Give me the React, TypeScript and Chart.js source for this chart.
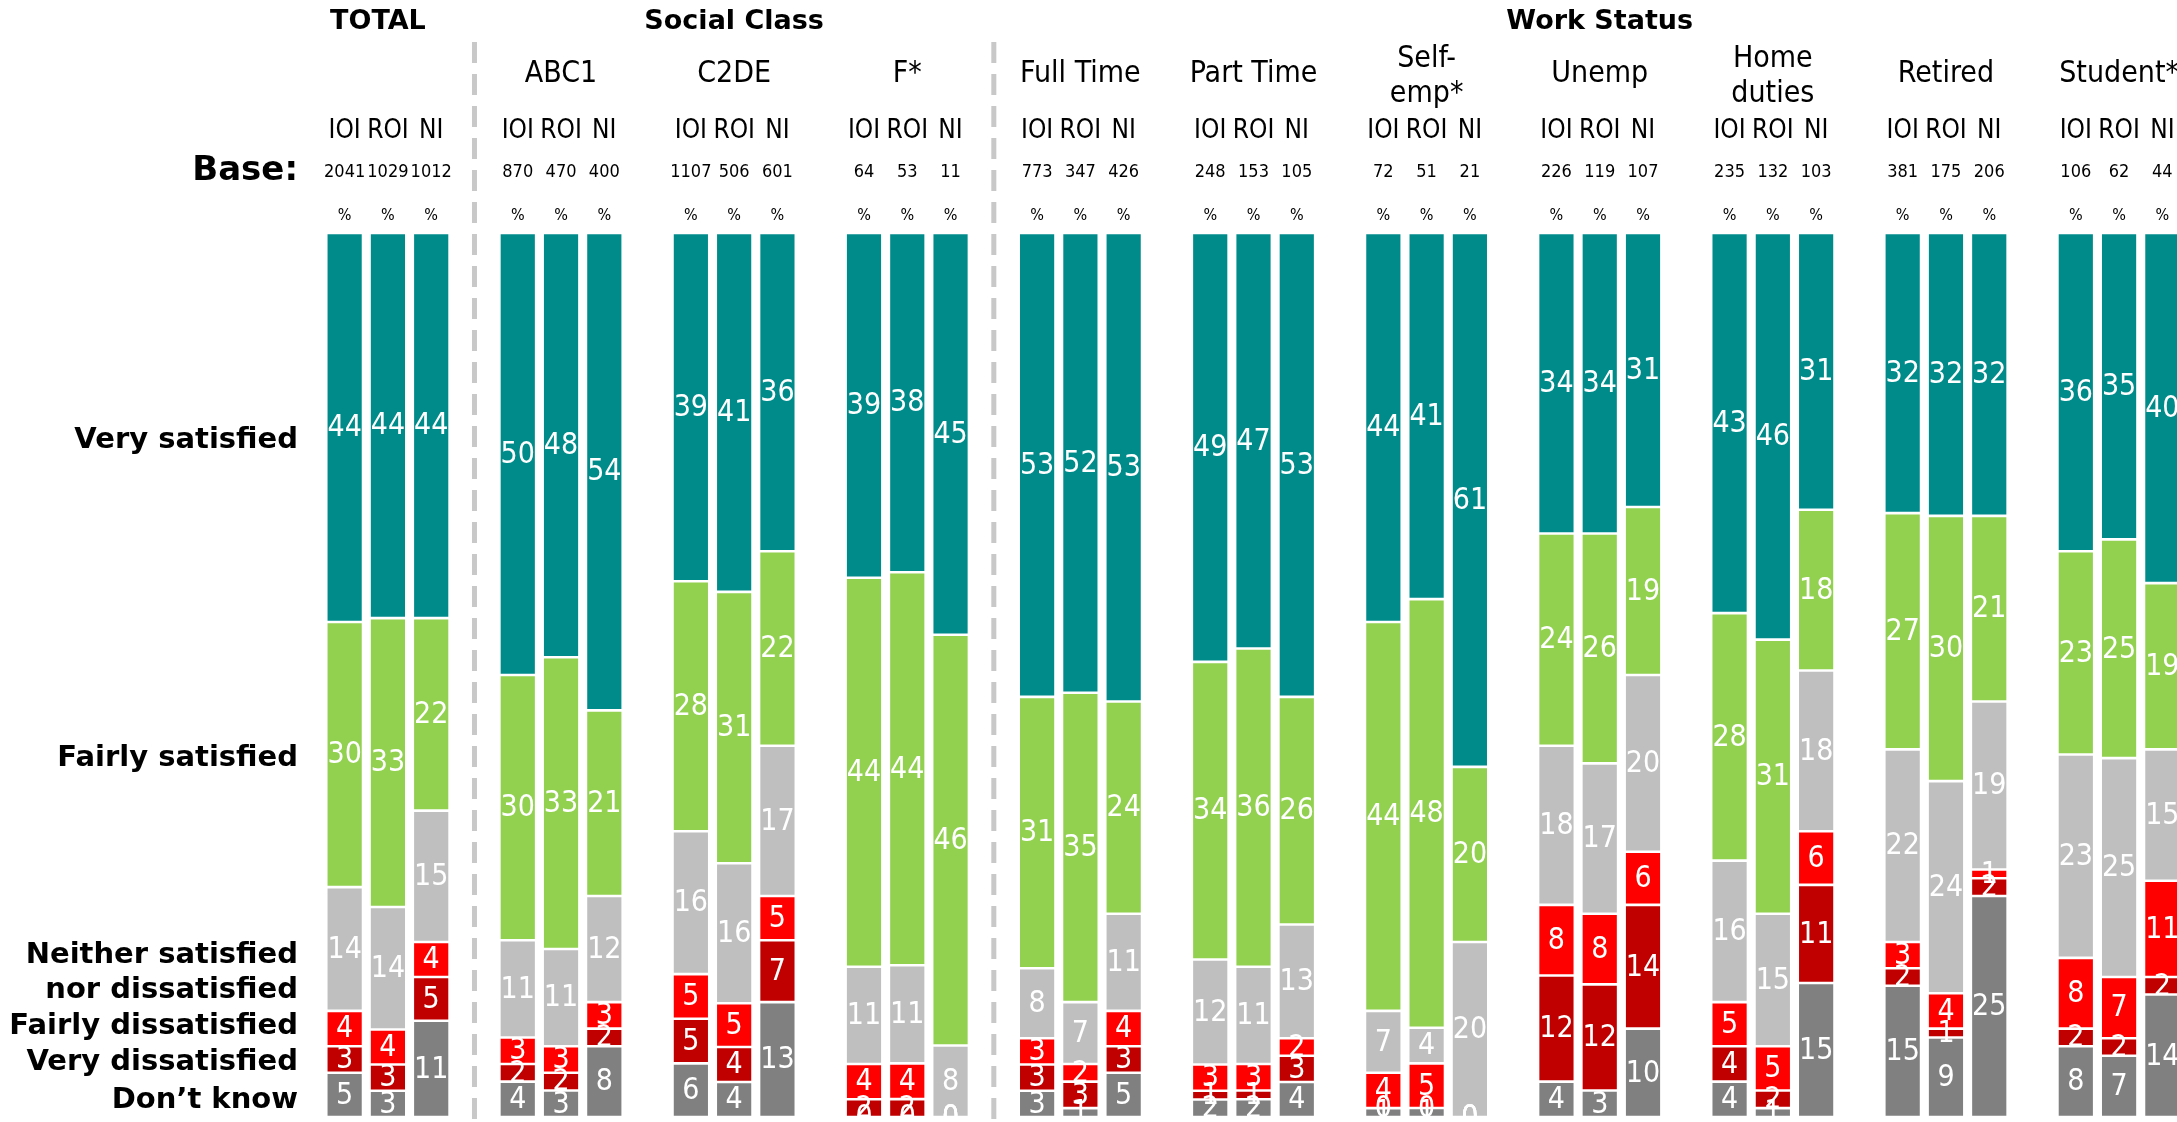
import React, { useEffect, useRef } from "react";
import { Chart, registerables } from "chart.js";
Chart.register(...registerables);

// ---------- DATA ----------
const sectionTitles = ["TOTAL", "Social Class", "Work Status"];
const groupNames = ["", "ABC1", "C2DE", "F*", "Full Time", "Part Time", "Self-\nemp*", "Unemp", "Home\nduties", "Retired", "Student*"];
const regionNames = ["IOI", "ROI", "NI"];
const baseCounts = [
  2041, 1029, 1012, 870, 470, 400, 1107, 506, 601, 64, 53, 11,
  773, 347, 426, 248, 153, 105, 72, 51, 21, 226, 119, 107,
  235, 132, 103, 381, 175, 206, 106, 62, 44,
];
const responseLabels = ["Don’t know", "Very dissatisfied", "Fairly dissatisfied", "Neither satisfied nor dissatisfied", "Fairly satisfied", "Very satisfied"];

const verySatisfied = [44, 44, 44, 50, 48, 54, 39, 41, 36, 39, 38, 45, 53, 52, 53, 49, 47, 53, 44, 41, 61, 34, 34, 31, 43, 46, 31, 32, 32, 32, 36, 35, 40];
const fairlySatisfied = [30, 33, 22, 30, 33, 21, 28, 31, 22, 44, 44, 46, 31, 35, 24, 34, 36, 26, 44, 48, 20, 24, 26, 19, 28, 31, 18, 27, 30, 21, 23, 25, 19];
const neitherNor = [14, 14, 15, 11, 11, 12, 16, 16, 17, 11, 11, 8, 8, 7, 11, 12, 11, 13, 7, 4, 20, 18, 17, 20, 16, 15, 18, 22, 24, 19, 23, 25, 15];
const fairlyDissatisfied = [4, 4, 4, 3, 3, 3, 5, 5, 5, 4, 4, 0, 3, 2, 4, 3, 3, 2, 4, 5, 0, 8, 8, 6, 5, 5, 6, 3, 4, 1, 8, 7, 11];
const veryDissatisfied = [3, 3, 5, 2, 2, 2, 5, 4, 7, 2, 2, 0, 3, 3, 3, 1, 1, 3, 0, 0, 0, 12, 12, 14, 4, 2, 11, 2, 1, 2, 2, 2, 2];
const dontKnow = [5, 3, 11, 4, 3, 8, 6, 4, 13, 0, 0, 0, 3, 1, 5, 2, 2, 4, 1, 1, 0, 4, 3, 10, 4, 1, 15, 15, 9, 25, 8, 7, 14];

const seriesColors = ["#808080", "#C00000", "#FF0000", "#BFBFBF", "#92D050", "#008B8B"];

// ---------- LAYOUT HELPERS ----------
const SLOTS = 43;
const slotOf = (i: number) => Math.floor(i / 3) * 4 + (i % 3);
const separatorSlots = [3, 15];
const sectionSlots = [1, 9, 29];

const COND = "'DejaVu Sans Condensed', 'DejaVu Sans', sans-serif";
const BOLD = "'DejaVu Sans', Verdana, sans-serif";

const allSeries = [dontKnow, veryDissatisfied, fairlyDissatisfied, neitherNor, fairlySatisfied, verySatisfied];

export default function App() {
  const ref = useRef<HTMLCanvasElement | null>(null);
  useEffect(() => {
    if (!ref.current) return;
    const nBars = verySatisfied.length;
    const totals = Array.from({ length: nBars }, (_, i) => allSeries.reduce((s, arr) => s + arr[i], 0));
    const labels = Array.from({ length: SLOTS }, (_, s) => String(s));
    const datasets = allSeries.map((arr, k) => {
      const data: (number | null)[] = new Array(SLOTS).fill(null);
      const raw: (number | null)[] = new Array(SLOTS).fill(null);
      arr.forEach((v, i) => {
        data[slotOf(i)] = (v * 100) / totals[i];
        raw[slotOf(i)] = v;
      });
      return {
        label: responseLabels[k],
        data,
        raw,
        backgroundColor: seriesColors[k],
        borderColor: "#FFFFFF",
        borderWidth: 1.3,
        borderSkipped: false as const,
        barPercentage: 0.85,
        categoryPercentage: 1,
      };
    });

    const texts = {
      id: "texts",
      beforeDatasetsDraw(chart: any) {
        const ctx = chart.ctx;
        const x = chart.scales.x;
        ctx.save();
        ctx.strokeStyle = "#C8C8C8";
        ctx.lineWidth = 5;
        ctx.setLineDash([21, 11]);
        separatorSlots.forEach((s) => {
          const px = x.getPixelForValue(s);
          ctx.beginPath();
          ctx.moveTo(px, 42);
          ctx.lineTo(px, 1122);
          ctx.stroke();
        });
        ctx.restore();
      },
      afterDatasetsDraw(chart: any) {
        const ctx = chart.ctx;
        ctx.save();
        ctx.fillStyle = "#FFFFFF";
        ctx.font = `30px ${COND}`;
        ctx.textAlign = "center";
        ctx.textBaseline = "middle";
        chart.data.datasets.forEach((ds: any, k: number) => {
          const meta = chart.getDatasetMeta(k);
          meta.data.forEach((el: any, s: number) => {
            const v = ds.raw[s];
            if (v === null || v === undefined) return;
            const cy = (el.y + el.base) / 2;
            ctx.fillText(String(v), el.x, cy + 1);
          });
        });
        ctx.restore();
      },
      afterDraw(chart: any) {
        const ctx = chart.ctx;
        const x = chart.scales.x;
        ctx.save();
        ctx.fillStyle = "#000000";
        ctx.textAlign = "center";
        ctx.textBaseline = "middle";
        // section titles
        ctx.font = `bold 27px ${BOLD}`;
        sectionTitles.forEach((t, i) => {
          const off = i === 0 ? -10 : 0;
          ctx.fillText(t, x.getPixelForValue(sectionSlots[i]) + off, 22);
        });
        // group names
        ctx.font = `30px ${COND}`;
        groupNames.forEach((g, gi) => {
          const cx = x.getPixelForValue(gi * 4 + 1);
          const lines = g.split("\n");
          if (lines.length === 1) ctx.fillText(lines[0], cx, 74);
          else {
            ctx.fillText(lines[0], cx, 59);
            ctx.fillText(lines[1], cx, 94);
          }
        });
        // region row, base row, % row
        for (let i = 0; i < baseCounts.length; i++) {
          const cx = x.getPixelForValue(slotOf(i));
          ctx.font = `26px ${COND}`;
          ctx.fillText(regionNames[i % 3], cx, 131);
          ctx.font = `18px ${COND}`;
          ctx.fillText(String(baseCounts[i]), cx, 172);
          ctx.font = `16px ${COND}`;
          ctx.fillText("%", cx, 216);
        }
        // left labels
        ctx.textAlign = "right";
        ctx.font = `bold 34px ${BOLD}`;
        ctx.fillText("Base:", 298, 171);
        ctx.font = `bold 29px ${BOLD}`;
        ctx.fillText(responseLabels[5], 298, 440);
        ctx.fillText(responseLabels[4], 298, 758);
        ctx.fillText("Neither satisfied", 298, 955);
        ctx.fillText("nor dissatisfied", 298, 990);
        ctx.fillText(responseLabels[2], 298, 1026);
        ctx.fillText(responseLabels[1], 298, 1062);
        ctx.fillText(responseLabels[0], 298, 1100);
        ctx.restore();
      },
    };

    const chart = new Chart(ref.current, {
      type: "bar",
      data: { labels, datasets: datasets as any },
      options: {
        animation: false,
        responsive: false,
        devicePixelRatio: 1,
        layout: { padding: { left: 323, top: 233, bottom: 5, right: 16 } },
        plugins: { legend: { display: false }, tooltip: { enabled: false } },
        scales: {
          x: { stacked: true, display: false, grid: { display: false } },
          y: { stacked: true, display: false, min: 0, max: 100, grid: { display: false } },
        },
      },
      plugins: [texts],
    });
    return () => chart.destroy();
  }, []);

  return (
    <div style={{ position: "absolute", left: 0, top: 0, width: 2177, height: 1122, overflow: "hidden", background: "#fff" }}>
      <canvas ref={ref} width={2200} height={1122} style={{ display: "block" }} />
    </div>
  );
}
